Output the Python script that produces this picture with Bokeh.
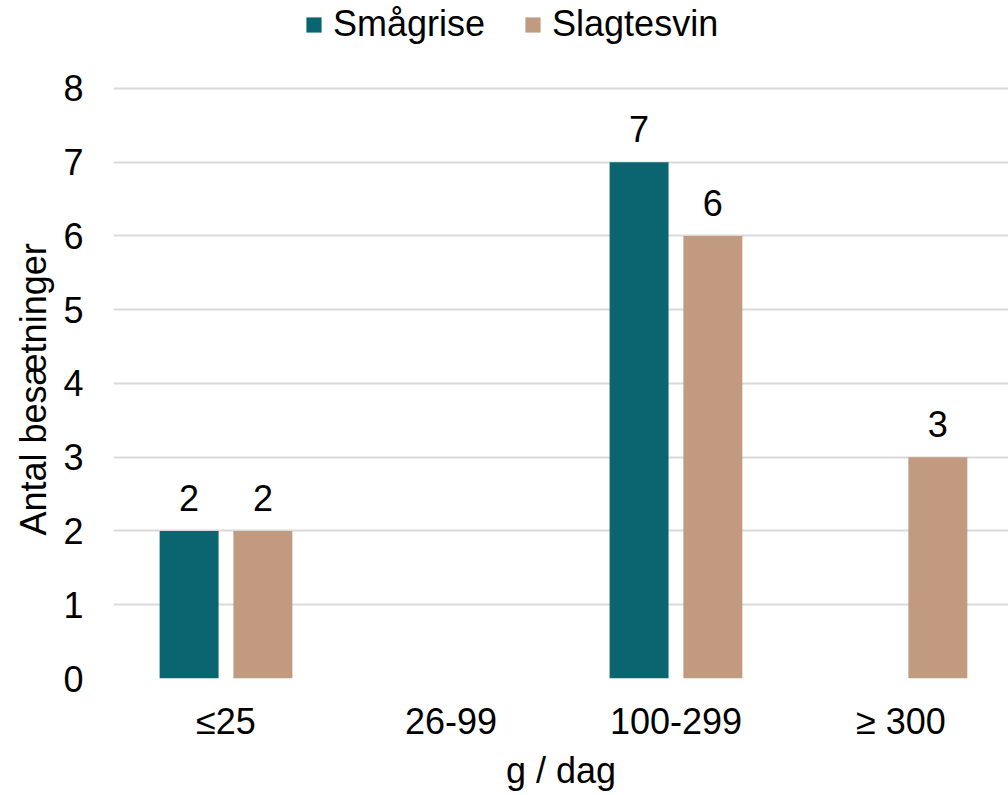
import numpy as np
from bokeh.plotting import figure
from bokeh.models import FixedTicker, Range1d, ColumnDataSource, Title
from bokeh.core.properties import value
from bokeh.embed import file_html
from bokeh.resources import INLINE

categories = ["≤25", "26-99", "100-299", "≥ 300"]
smaagrise = [2, 0, 7, 0]
slagtesvin = [2, 0, 6, 3]
y_ticks = [0, 1, 2, 3, 4, 5, 6, 7, 8]

TEAL = "#0A6570"
TAN = "#C19A7F"
FONT = "Liberation Sans"
FS = "36px"

centers = np.arange(1, len(categories) + 1)
offset = 0.164
bw = 0.262

p = figure(width=1008, height=795, output_backend="svg", toolbar_location=None,
           x_range=Range1d(0.5, 4.478), y_range=Range1d(0, 9.193),
           min_border_left=113, min_border_right=0, min_border_top=0, min_border_bottom=117)
p.outline_line_color = None

src1 = ColumnDataSource(dict(x=centers - offset, top=smaagrise))
src2 = ColumnDataSource(dict(x=centers + offset, top=slagtesvin))
p.vbar(x="x", top="top", width=bw, source=src1, fill_color=TEAL, line_color=None,
       legend_label="Smågrise")
p.vbar(x="x", top="top", width=bw, source=src2, fill_color=TAN, line_color=None,
       legend_label="Slagtesvin")

# value labels (non-zero only)
for xs, vals in ((centers - offset, smaagrise), (centers + offset, slagtesvin)):
    lx = [x for x, v in zip(xs, vals) if v > 0]
    ly = [v for v in vals if v > 0]
    lt = [str(v) for v in vals if v > 0]
    p.text(x=lx, y=ly, text=lt, text_align="center", text_baseline="bottom",
           y_offset=-20, text_font=value(FONT), text_font_size=FS, text_color="#000000")

# axes
p.xaxis.ticker = FixedTicker(ticks=list(centers))
p.xaxis.major_label_overrides = {int(c): lab for c, lab in zip(centers, categories)}
p.yaxis.ticker = FixedTicker(ticks=y_ticks)
for ax in (p.xaxis[0], p.yaxis[0]):
    ax.axis_line_color = None
    ax.major_tick_line_color = None
    ax.minor_tick_line_color = None
    ax.major_tick_out = 0
    ax.major_tick_in = 0
    ax.minor_tick_out = 0
    ax.minor_tick_in = 0
    ax.major_label_text_font = FONT
    ax.major_label_text_font_size = FS
    ax.major_label_text_color = "#000000"
    ax.axis_label_text_font = FONT
    ax.axis_label_text_font_size = FS
    ax.axis_label_text_font_style = "normal"
    ax.axis_label_text_color = "#000000"
p.xaxis.axis_label = "g / dag"
p.xaxis.major_label_standoff = 22
p.xaxis.axis_label_standoff = 5
p.yaxis.major_label_standoff = 30

ytitle = Title(text="Antal besætninger", align="left", offset=143, standoff=14,
               text_font=FONT, text_font_size=FS, text_font_style="normal",
               text_color="#000000")
p.add_layout(ytitle, "left")

p.xgrid.grid_line_color = None
p.ygrid.grid_line_color = "#D9D9D9"
p.ygrid.grid_line_width = 2

leg = p.legend[0]
leg.orientation = "horizontal"
leg.location = (191, 633)
leg.border_line_color = None
leg.background_fill_alpha = 0
leg.padding = 0
leg.margin = 0
leg.spacing = 38
leg.label_standoff = 10
leg.glyph_width = 19
leg.glyph_height = 19
leg.label_text_font = FONT
leg.label_text_font_size = FS
leg.label_text_color = "#000000"

open("out.html", "w").write(file_html(p, INLINE))
